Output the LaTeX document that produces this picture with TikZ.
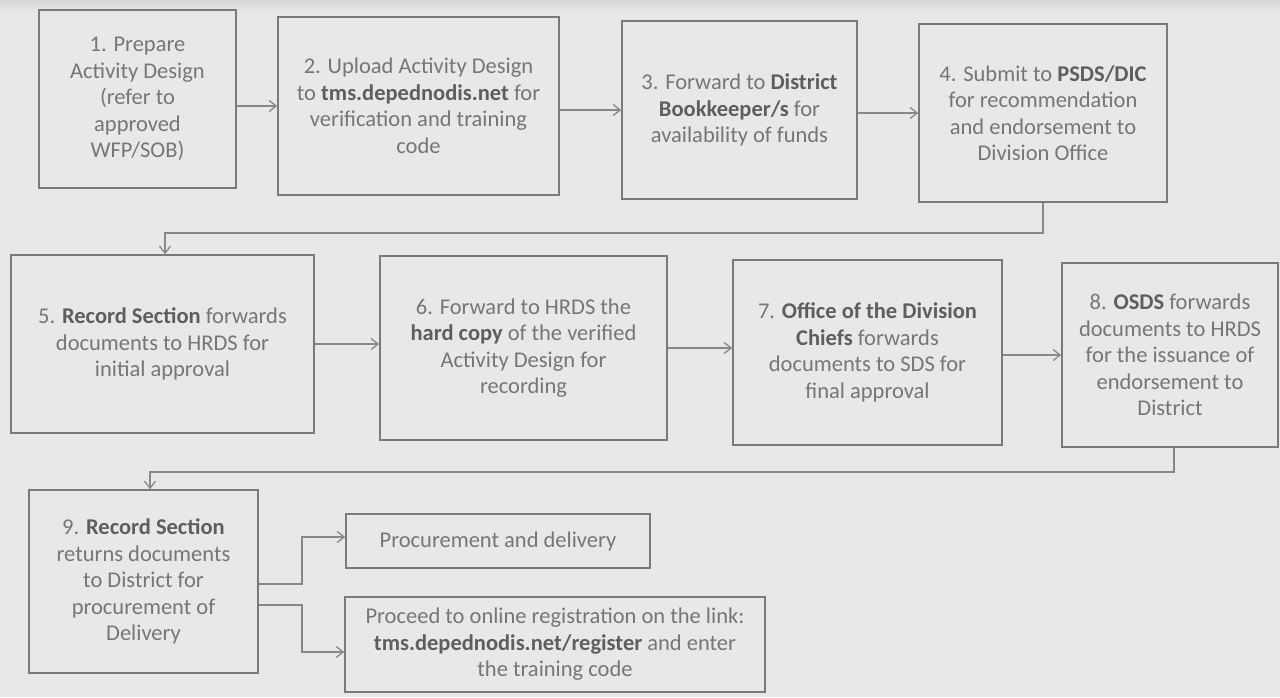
\documentclass[tikz,border=0pt]{standalone}
\usepackage{fontspec}
\setmainfont{Carlito}
\usetikzlibrary{arrows.meta}

\definecolor{paper}{HTML}{E8E8E6}
\definecolor{band}{HTML}{D6D6D4}
\definecolor{txt}{HTML}{767676}
\definecolor{txtbold}{HTML}{5E5E5E}
\definecolor{edge}{HTML}{7A7A7A}
\definecolor{wire}{HTML}{888888}

\newcommand{\hl}[1]{\textbf{\color{txtbold}#1}}

\tikzset{
  stepbox/.style={draw=edge, line width=1.6pt, rectangle, inner sep=0pt,
    align=center, text=txt, font=\fontsize{22.5}{26.5}\selectfont},
  conn/.style={draw=wire, line width=1.3pt,
    -{Straight Barb[length=7pt,width=11pt,line width=1.3pt]}}
}

\begin{document}
\begin{tikzpicture}[x=1pt,y=-1pt]
  % page
  \useasboundingbox (0,0) rectangle (1280,697);
  \fill[paper] (0,0) rectangle (1280,697);
  \shade[top color=band, bottom color=paper] (0,0) rectangle (1280,12);

  % first row
  \node[stepbox, minimum width=197pt, minimum height=178pt] (b1) at (137.5,99)
    {1. Prepare\\Activity Design\\(refer to\\approved\\WFP/SOB)};
  \node[stepbox, minimum width=281pt, minimum height=178pt] (b2) at (418.5,106)
    {2. Upload Activity Design\\to \hl{tms.depednodis.net} for\\verification and training\\code};
  \node[stepbox, minimum width=235pt, minimum height=178pt] (b3) at (739.5,110)
    {3. Forward to \hl{District}\\\hl{Bookkeeper/s} for\\availability of funds};
  \node[stepbox, minimum width=248pt, minimum height=178pt] (b4) at (1043,113)
    {4. Submit to \hl{PSDS/DIC}\\for recommendation\\and endorsement to\\Division Office};

  % second row
  \node[stepbox, minimum width=303pt, minimum height=178pt] (b5) at (162.5,344)
    {5. \hl{Record Section} forwards\\documents to HRDS for\\initial approval};
  \node[stepbox, minimum width=287pt, minimum height=184pt] (b6) at (523.5,348)
    {6. Forward to HRDS the\\\hl{hard copy} of the verified\\Activity Design for\\recording};
  \node[stepbox, minimum width=269pt, minimum height=185pt] (b7) at (867.5,352.5)
    {7. \hl{Office of the Division}\\\hl{Chiefs} forwards\\documents to SDS for\\final approval};
  \node[stepbox, minimum width=216pt, minimum height=184pt] (b8) at (1170,355)
    {8. \hl{OSDS} forwards\\documents to HRDS\\for the issuance of\\endorsement to\\District};

  % third row
  \node[stepbox, minimum width=229pt, minimum height=183pt] (b9) at (143.5,581.5)
    {9. \hl{Record Section}\\returns documents\\to District for\\procurement of\\Delivery};
  \node[stepbox, minimum width=304pt, minimum height=54pt] (bP) at (498,541)
    {Procurement and delivery};
  \node[stepbox, minimum width=420pt, minimum height=95pt] (bR) at (555,644.5)
    {Proceed to online registration on the link:\\\hl{tms.depednodis.net/register} and enter\\the training code};

  % straight links inside each row
  \draw[conn] (b2.west -| b1.east) -- (b2.west);
  \draw[conn] (b3.west -| b2.east) -- (b3.west);
  \draw[conn] (b4.west -| b3.east) -- (b4.west);
  \draw[conn] (b5.east) -- (b5.east -| b6.west);
  \draw[conn] (b6.east) -- (b6.east -| b7.west);
  \draw[conn] (b8.west -| b7.east) -- (b8.west);

  % return links between rows
  \coordinate (turn1) at (165,233);
  \draw[conn] (b4.south) |- (turn1) -- (turn1 |- b5.north);
  \coordinate (turn2) at (150,472);
  \draw[conn] ([xshift=4pt]b8.south) |- (turn2) -- (turn2 |- b9.north);

  % fork out of step 9
  \coordinate (fork1) at (302,584);
  \coordinate (fork2) at (302,605);
  \draw[conn] (fork1 -| b9.east) -- (fork1) |- ([yshift=4pt]bP.west);
  \draw[conn] (fork2 -| b9.east) -- (fork2) |- ([yshift=-7.5pt]bR.west);
\end{tikzpicture}
\end{document}
